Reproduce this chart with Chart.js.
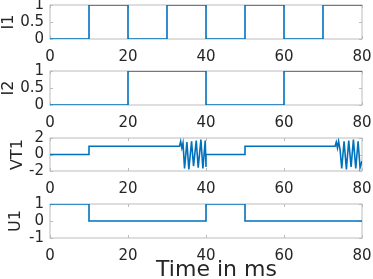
<!DOCTYPE html>
<html>
<head>
<meta charset="utf-8">
<script src="https://cdn.jsdelivr.net/npm/chart.js@4"></script>
<style>
  html, body { margin: 0; padding: 0; background: #fff; }
  #wrap { position: relative; width: 373px; height: 279px; overflow: hidden; }
  #wrap canvas { position: absolute; left: 0; }
</style>
</head>
<body>
<div id="wrap">
  <canvas id="c1"></canvas>
  <canvas id="c2"></canvas>
  <canvas id="c3"></canvas>
  <canvas id="c4"></canvas>
</div>
<script>
// time axis (ms)
const xTicks = [0, 20, 40, 60, 80];

// square signals, value holds until next time point
const stepTime = [0, 10, 20, 30, 40, 50, 60, 70, 80];
const i1 = [0, 1, 0, 1, 0, 1, 0, 1, 1];
const i2 = [0, 0, 1, 1, 0, 0, 1, 1, 1];
const u1 = [1, 0, 0, 0, 1, 0, 0, 0, 0];

// VT1 voltage
const vtTime = [0, 10, 10, 33.2, 33.5, 33.8, 34.1, 34.5, 35.1, 35.6, 36.3, 36.8, 37.5, 38.0, 38.7, 39.2, 39.8, 40, 40, 50, 50,
  73.1, 73.4, 73.7, 74.0, 74.4, 74.8, 75.4, 76.0, 76.6, 77.2, 77.8, 78.4, 79.0, 79.5, 80];
const vtValue = [0, 0, 1, 1, 1.6, 0.8, 1.4, -1.7, 1.5, -1.8, 1.6, -1.4, 1.7, -1.6, 1.8, -1.7, 1.7, -1.5, 0, 0, 1,
  1, 1.5, 0.8, 1.6, 0.5, -1.7, 1.6, -1.8, 1.7, -1.5, 1.8, -1.7, 1.6, -1.6, -0.8];

const FONT = "'DejaVu Sans', 'Liberation Sans', Arial, sans-serif";
const LINE = '#0072BD';
const TXT = '#262626';
const BOX = '#bcbcbc';

// MATLAB-like box with inward ticks
const boxPlugin = {
  id: 'box',
  beforeDatasetsDraw(chart) {
    const { ctx, chartArea: a, scales: { x, y } } = chart;
    ctx.save();
    ctx.strokeStyle = BOX;
    ctx.lineWidth = 1;
    ctx.strokeRect(a.left, a.top, a.width, a.height);
    ctx.beginPath();
    x.ticks.forEach(t => {
      const px = Math.round(x.getPixelForValue(t.value)) + 0.5;
      ctx.moveTo(px, a.bottom); ctx.lineTo(px, a.bottom - 3);
      ctx.moveTo(px, a.top); ctx.lineTo(px, a.top + 3);
    });
    y.ticks.forEach(t => {
      const py = Math.round(y.getPixelForValue(t.value)) + 0.5;
      ctx.moveTo(a.left, py); ctx.lineTo(a.left + 3, py);
      ctx.moveTo(a.right, py); ctx.lineTo(a.right - 3, py);
    });
    ctx.stroke();
    ctx.restore();
  }
};

function makeChart(id, areaTop, areaBottom, times, values, stepped, yOpt, title, titlePad, xLabel) {
  const canvas = document.getElementById(id);
  const padTop = 10;
  const xHeight = xLabel ? 281 - areaBottom : 30;
  canvas.width = 373;
  canvas.height = (areaBottom - areaTop) + padTop + xHeight;
  canvas.style.top = (areaTop - padTop) + 'px';

  return new Chart(canvas.getContext('2d'), {
    type: 'line',
    data: {
      datasets: [{
        data: times.map((t, i) => ({ x: t, y: values[i] })),
        borderColor: LINE,
        borderWidth: 1.6,
        pointRadius: 0,
        stepped: stepped,
        tension: 0,
        fill: false
      }]
    },
    options: {
      responsive: false,
      animation: false,
      devicePixelRatio: 1,
      layout: { padding: { top: padTop, right: 11, left: 0, bottom: 0 } },
      plugins: { legend: { display: false }, tooltip: { enabled: false } },
      scales: {
        x: {
          type: 'linear',
          min: 0,
          max: 80,
          afterBuildTicks: s => { s.ticks = xTicks.map(v => ({ value: v })); },
          afterFit: s => { s.height = xHeight; s.paddingLeft = 0; s.paddingRight = 0; },
          grid: { display: false, drawTicks: false },
          border: { display: false },
          ticks: {
            color: TXT, font: { family: FONT, size: 15 }, padding: 9,
            maxRotation: 0, autoSkip: false, callback: v => String(v)
          },
          title: {
            display: !!xLabel,
            text: xLabel || '',
            color: TXT,
            font: { family: FONT, size: 22, lineHeight: 1 },
            padding: 0
          }
        },
        y: {
          min: yOpt.min,
          max: yOpt.max,
          afterBuildTicks: s => { s.ticks = yOpt.ticks.map(v => ({ value: v })); },
          afterFit: s => { s.width = 50; s.paddingTop = 0; s.paddingBottom = 0; },
          grid: { display: false, drawTicks: false },
          border: { display: false },
          ticks: {
            color: TXT, font: { family: FONT, size: 15 }, padding: 6,
            autoSkip: false, callback: v => String(v)
          },
          title: {
            display: true,
            text: title,
            color: TXT,
            font: { family: FONT, size: 16, lineHeight: 1 },
            padding: { top: titlePad, bottom: 0 }
          }
        }
      }
    },
    plugins: [boxPlugin]
  });
}

makeChart('c1', 5, 39, stepTime, i1, true, { min: 0, max: 1, ticks: [0, 0.5, 1] }, 'I1', 0.5);
makeChart('c2', 71, 105, stepTime, i2, true, { min: 0, max: 1, ticks: [0, 0.5, 1] }, 'I2', 0.5);
makeChart('c3', 138, 171, vtTime, vtValue, false, { min: -2, max: 2, ticks: [-2, 0, 2] }, 'VT1', 10);
makeChart('c4', 204, 238, stepTime, u1, true, { min: -1, max: 1, ticks: [-1, 0, 1] }, 'U1', 8, '   Time in ms');
</script>
</body>
</html>
